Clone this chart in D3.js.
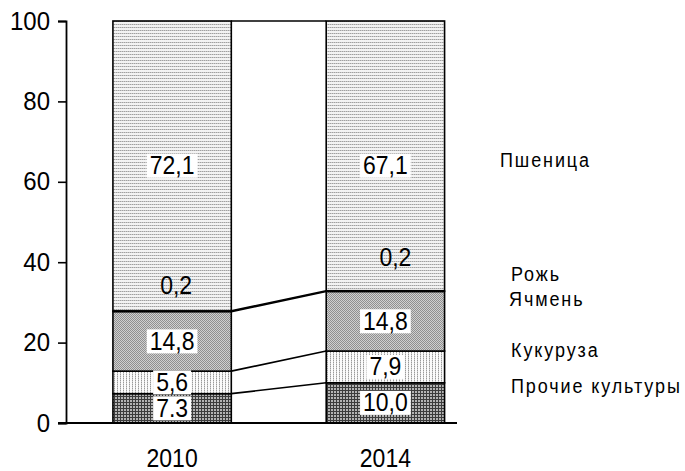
<!DOCTYPE html>
<html lang="ru">

<head>
    <meta charset="UTF-8">
    <title>Структура посевов</title>
    <script src="https://cdn.jsdelivr.net/npm/d3@7"></script>
    <style>
        body { margin: 0; background: #fff; }
        text { font-family: "Liberation Sans", Arial, sans-serif; fill: #000; }
    </style>
</head>

<body>
    <svg id="main" width="685" height="471"></svg>
    <script>
        const categories = ['2010', '2014'];
        const crops = ['Прочие культуры', 'Кукуруза', 'Ячмень', 'Рожь', 'Пшеница'];
        const values2010 = [7.3, 5.6, 14.8, 0.2, 72.1];
        const values2014 = [10.0, 7.9, 14.8, 0.2, 67.1];
        const labels2010 = ['7.3', '5,6', '14,8', '0,2', '72,1'];
        const labels2014 = ['10,0', '7,9', '14,8', '0,2', '67,1'];
        const yTicks = [0, 20, 40, 60, 80, 100];

        // layout (pixels), same order as crops
        const legendX = [511, 511, 509, 511, 500];
        const legendY = [393, 357, 306, 281, 167];
        const rozhLift = [25, 33];
        const stretch = 1.1;   // text in the picture is a bit tall

        const svg = d3.select('#main');
        const defs = svg.append('defs');

        // patterns
        function pattern(id, w, h, bg, cells) {
            const p = defs.append('pattern')
                .attr('id', id)
                .attr('patternUnits', 'userSpaceOnUse')
                .attr('width', w).attr('height', h);
            p.append('rect').attr('width', w).attr('height', h).attr('fill', bg);
            cells.forEach(c => {
                p.append('rect').attr('x', c[0]).attr('y', c[1])
                    .attr('width', c[2]).attr('height', c[3]).attr('fill', c[4]);
            });
        }
        pattern('p-other', 3, 3, '#b4b4b4', [[0, 0, 3, 1, '#3c3c3c'], [0, 0, 1, 3, '#3c3c3c']]);
        pattern('p-corn', 3, 2, '#fbfbfb', [[0, 0, 1, 1, '#9a9a9a'], [0, 1, 1, 1, '#cfcfcf']]);
        pattern('p-barley', 2, 2, '#d0d0d0', [[0, 0, 1, 1, '#909090'], [1, 1, 1, 1, '#909090']]);
        pattern('p-wheat', 2, 3, '#f3f3f3', [[0, 0, 1, 1, '#a0a0a0'], [1, 0, 1, 1, '#cacaca']]);
        const fills = ['url(#p-other)', 'url(#p-corn)', 'url(#p-barley)', '#000', 'url(#p-wheat)'];

        const y = d3.scaleLinear().domain([0, 100]).range([423, 21]);
        const x = d3.scaleBand().domain(categories)
            .range([59.6, 497.9]).paddingInner(0.445).paddingOuter(0.25);

        const rows = categories.map((c, i) => {
            const r = { cat: c };
            const vals = i === 0 ? values2010 : values2014;
            crops.forEach((k, j) => r[k] = vals[j]);
            return r;
        });
        const series = d3.stack().keys(crops)(rows);

        function sText(g, str, tx, ty, size, anchor) {
            return g.append('text')
                .attr('transform', `translate(${tx},${ty}) scale(1,${stretch})`)
                .attr('text-anchor', anchor || 'middle')
                .attr('font-size', size)
                .text(str);
        }

        // series lines between bars
        const x1 = x('2010') + x.bandwidth();
        const x2 = x('2014');
        const levels = series.map(s => [s[0][1], s[1][1]]);
        svg.append('g').selectAll('line').data(levels).join('line')
            .attr('x1', x1).attr('x2', x2)
            .attr('y1', d => y(d[0])).attr('y2', d => y(d[1]))
            .attr('stroke', '#000').attr('stroke-width', 1.6);

        // segments
        const segG = svg.append('g');
        series.forEach((s, j) => {
            segG.selectAll(null).data(s).join('rect')
                .attr('x', d => x(d.data.cat))
                .attr('width', x.bandwidth())
                .attr('y', d => y(d[1]))
                .attr('height', d => y(d[0]) - y(d[1]))
                .attr('fill', fills[j])
                .attr('stroke', '#000')
                .attr('stroke-width', j === 3 ? 1.2 : 1.6);
        });

        // value labels
        const labG = svg.append('g');
        categories.forEach((c, i) => {
            const labs = i === 0 ? labels2010 : labels2014;
            const cx = x(c) + x.bandwidth() / 2;
            series.forEach((s, j) => {
                const d = s[i];
                let cy = (y(d[0]) + y(d[1])) / 2;
                if (j === 4) cy = y(64);
                if (j === 3) {
                    sText(labG, labs[j], cx + (i === 0 ? 4 : 10), y(d[1]) - rozhLift[i] + 8, 23);
                    return;
                }
                const t = sText(labG, labs[j], cx, cy + 8.5, 23);
                const w = t.node().getComputedTextLength();
                labG.insert('rect', () => t.node())
                    .attr('x', cx - w / 2 - 3).attr('width', w + 6)
                    .attr('y', cy - 12).attr('height', 24)
                    .attr('fill', '#fff');
            });
        });

        // y axis
        const yAxis = svg.append('g')
            .attr('transform', 'translate(66,0)')
            .call(d3.axisLeft(y).tickValues(yTicks).tickSize(8).tickPadding(6));
        yAxis.select('.domain').attr('stroke-width', 1.8);
        yAxis.selectAll('.tick line').attr('stroke-width', 1.6);
        yAxis.selectAll('.tick text').remove();
        yTicks.forEach(v => sText(svg, v, 50, y(v) + 8.5, 24, 'end'));

        // baseline
        svg.append('line')
            .attr('x1', 58).attr('x2', 457)
            .attr('y1', y(0)).attr('y2', y(0))
            .attr('stroke', '#000').attr('stroke-width', 1.8);

        // category labels
        categories.forEach(c => sText(svg, c, x(c) + x.bandwidth() / 2, 467, 23));

        // legend labels
        crops.forEach((k, j) => {
            sText(svg, k, legendX[j], legendY[j], 18, 'start')
                .attr('letter-spacing', 1.9);
        });
    </script>
</body>

</html>
